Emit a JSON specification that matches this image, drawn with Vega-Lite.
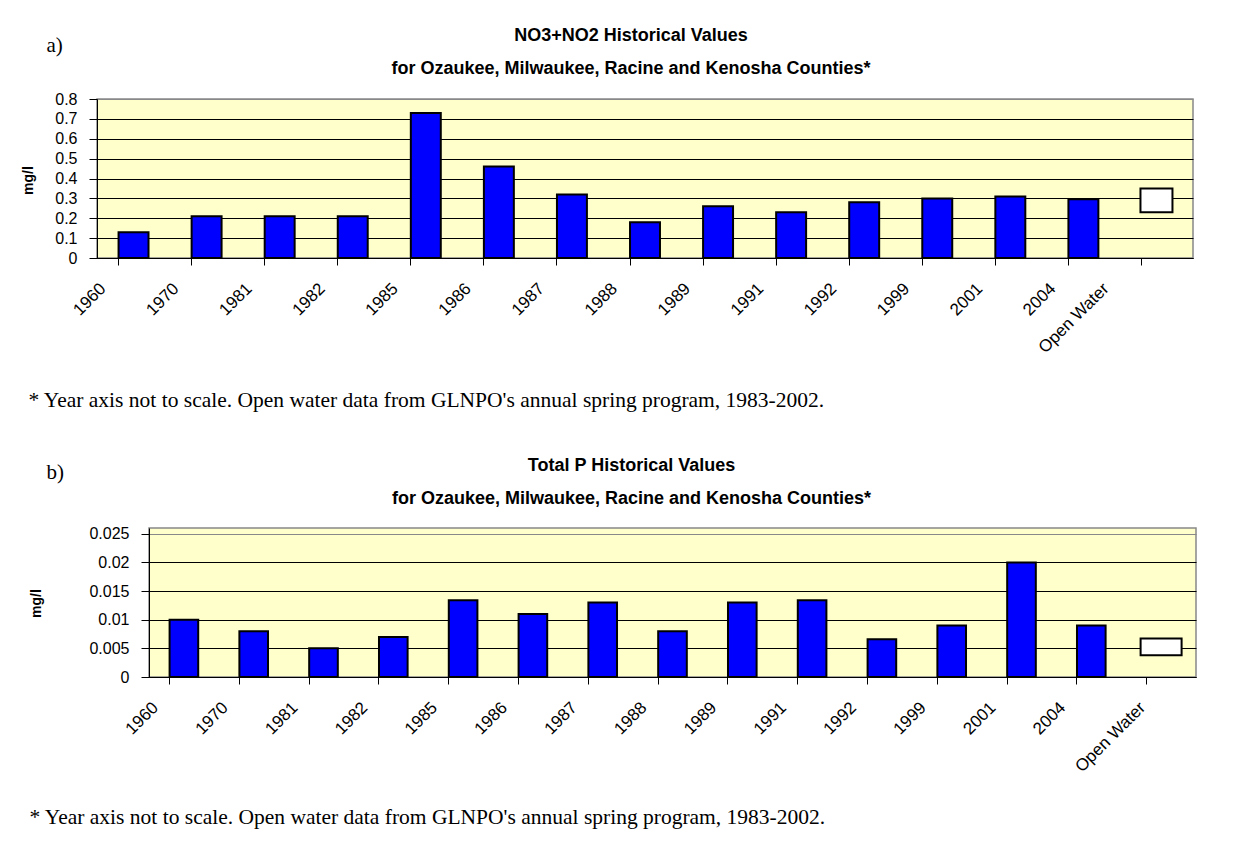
{
  "$schema": "https://vega.github.io/schema/vega-lite/v6.json",
  "background": "white",
  "padding": {"left": 0, "top": 26, "right": 5, "bottom": 5},
  "datasets": {
    "nitrate": [
      {"category": "1960", "value": 0.13},
      {"category": "1970", "value": 0.21},
      {"category": "1981", "value": 0.21},
      {"category": "1982", "value": 0.21},
      {"category": "1985", "value": 0.73},
      {"category": "1986", "value": 0.46},
      {"category": "1987", "value": 0.32},
      {"category": "1988", "value": 0.18},
      {"category": "1989", "value": 0.26},
      {"category": "1991", "value": 0.23},
      {"category": "1992", "value": 0.28},
      {"category": "1999", "value": 0.30},
      {"category": "2001", "value": 0.31},
      {"category": "2004", "value": 0.295},
      {"category": "Open Water", "low": 0.23, "high": 0.35}
    ],
    "phosphorus": [
      {"category": "1960", "value": 0.010},
      {"category": "1970", "value": 0.008},
      {"category": "1981", "value": 0.005},
      {"category": "1982", "value": 0.007},
      {"category": "1985", "value": 0.0134},
      {"category": "1986", "value": 0.011},
      {"category": "1987", "value": 0.013},
      {"category": "1988", "value": 0.008},
      {"category": "1989", "value": 0.013},
      {"category": "1991", "value": 0.0134},
      {"category": "1992", "value": 0.0066},
      {"category": "1999", "value": 0.009},
      {"category": "2001", "value": 0.020},
      {"category": "2004", "value": 0.009},
      {"category": "Open Water", "low": 0.0038, "high": 0.0067}
    ]
  },
  "config": {
    "font": "Liberation Sans",
    "view": {"stroke": "#888888", "strokeWidth": 1.5, "fill": "#FFFFCC"},
    "axis": {
      "domainColor": "black", "tickColor": "black", "labelColor": "black",
      "titleColor": "black", "labelFont": "Liberation Sans", "titleFont": "Liberation Sans"
    },
    "title": {"font": "Liberation Sans", "color": "black"}
  },
  "spacing": 44,
  "vconcat": [
    {
      "spacing": 0,
      "hconcat": [
        {
          "width": 20, "height": 10,
          "data": {"values": []},
          "mark": "point",
          "encoding": {},
          "view": {"stroke": null, "fill": null}
        },
        {
          "width": 1096,
          "height": 159,
          "title": {
            "text": ["NO3+NO2 Historical Values", "for Ozaukee, Milwaukee, Racine and Kenosha Counties*"],
            "fontSize": 18, "fontWeight": "bold", "lineHeight": 33, "anchor": "middle", "offset": 8, "dx": -14, "dy": 52
          },
          "data": {"name": "nitrate"},
          "layer": [
            {
              "transform": [{"filter": "isValid(datum.value)"}],
              "mark": {"type": "bar", "fill": "#0000FF", "stroke": "black", "strokeWidth": 2},
              "encoding": {
                "x": {
                  "field": "category", "type": "nominal",
                  "scale": {"domain": ["1960","1970","1981","1982","1985","1986","1987","1988","1989","1991","1992","1999","2001","2004","Open Water"], "paddingInner": 0.59, "paddingOuter": 0.295},
                  "axis": {
                    "title": "* Year axis not to scale. Open water data from GLNPO's annual spring program, 1983-2002.",
                    "titleFont": "Liberation Serif", "titleFontSize": 21.5, "titleFontWeight": "normal",
                    "titleAlign": "left", "titleX": -69, "titleY": 148, "titleBaseline": "alphabetic",
                    "labelAngle": -45, "labelFontSize": 17, "labelPadding": 15,
                    "labelOffset": {"condition": {"test": "datum.value === 'Open Water'", "value": -56}, "value": -36},
                    "bandPosition": 0, "tickSize": 7, "grid": false
                  }
                },
                "y": {
                  "field": "value", "type": "quantitative",
                  "scale": {"domain": [0, 0.8]},
                  "axis": {
                    "title": "mg/l", "titleFontSize": 14, "titleFontWeight": "bold",
                    "titleX": -69, "titleY": 81, "titleBaseline": "middle",
                    "values": [0, 0.1, 0.2, 0.3, 0.4, 0.5, 0.6, 0.7, 0.8], "format": "~g",
                    "labelFontSize": 16, "labelPadding": 12, "tickSize": 8, "grid": true,
                    "gridColor": {"condition": {"test": "datum.value >= 0.8", "value": "#888888"}, "value": "black"}
                  }
                }
              }
            },
            {
              "transform": [{"filter": "isValid(datum.low)"}],
              "mark": {"type": "bar", "fill": "white", "stroke": "black", "strokeWidth": 2, "width": 32},
              "encoding": {
                "x": {"field": "category", "type": "nominal"},
                "y": {
                  "field": "low", "type": "quantitative",
                  "axis": {
                    "orient": "right", "labels": false, "ticks": false, "domain": false, "grid": false,
                    "title": "a)", "titleFont": "Liberation Serif", "titleFontSize": 21, "titleFontWeight": "normal",
                    "titleAngle": 0, "titleAlign": "left", "titleBaseline": "alphabetic", "titleX": -1147, "titleY": -48
                  }
                },
                "y2": {"field": "high"}
              }
            }
          ],
          "resolve": {"axis": {"y": "independent"}}
        }
      ]
    },
    {
      "spacing": 0,
      "hconcat": [
        {
          "width": 28, "height": 10,
          "data": {"values": []},
          "mark": "point",
          "encoding": {},
          "view": {"stroke": null, "fill": null}
        },
        {
          "width": 1047,
          "height": 149,
          "title": {
            "text": ["Total P Historical Values", "for Ozaukee, Milwaukee, Racine and Kenosha Counties*"],
            "fontSize": 18, "fontWeight": "bold", "lineHeight": 33, "anchor": "middle", "offset": 8, "dx": -41, "dy": 55
          },
          "data": {"name": "phosphorus"},
          "layer": [
            {
              "transform": [{"filter": "isValid(datum.value)"}],
              "mark": {"type": "bar", "fill": "#0000FF", "stroke": "black", "strokeWidth": 2},
              "encoding": {
                "x": {
                  "field": "category", "type": "nominal",
                  "scale": {"domain": ["1960","1970","1981","1982","1985","1986","1987","1988","1989","1991","1992","1999","2001","2004","Open Water"], "paddingInner": 0.59, "paddingOuter": 0.295},
                  "axis": {
                    "title": "* Year axis not to scale. Open water data from GLNPO's annual spring program, 1983-2002.",
                    "titleFont": "Liberation Serif", "titleFontSize": 21.5, "titleFontWeight": "normal",
                    "titleAlign": "left", "titleX": -120, "titleY": 146, "titleBaseline": "alphabetic",
                    "labelAngle": -45, "labelFontSize": 17, "labelPadding": 15,
                    "labelOffset": {"condition": {"test": "datum.value === 'Open Water'", "value": -24}, "value": -34},
                    "bandPosition": 0, "tickSize": 7, "grid": false
                  }
                },
                "y": {
                  "field": "value", "type": "quantitative",
                  "scale": {"domain": [0, 0.025]},
                  "axis": {
                    "title": "mg/l", "titleFontSize": 14, "titleFontWeight": "bold",
                    "titleX": -113, "titleY": 75, "titleBaseline": "middle",
                    "values": [0, 0.005, 0.01, 0.015, 0.02, 0.025], "format": "~g",
                    "labelFontSize": 16, "labelPadding": 12, "tickSize": 8, "grid": true,
                    "gridColor": {"condition": {"test": "datum.value >= 0.025", "value": "#888888"}, "value": "black"}
                  }
                }
              }
            },
            {
              "transform": [{"filter": "isValid(datum.low)"}],
              "mark": {"type": "bar", "fill": "white", "stroke": "black", "strokeWidth": 2, "width": 41},
              "encoding": {
                "x": {"field": "category", "type": "nominal"},
                "y": {
                  "field": "low", "type": "quantitative",
                  "axis": {
                    "orient": "right", "labels": false, "ticks": false, "domain": false, "grid": false,
                    "title": "b)", "titleFont": "Liberation Serif", "titleFontSize": 21, "titleFontWeight": "normal",
                    "titleAngle": 0, "titleAlign": "left", "titleBaseline": "alphabetic", "titleX": -1150, "titleY": -50
                  }
                },
                "y2": {"field": "high"}
              }
            }
          ],
          "resolve": {"axis": {"y": "independent"}}
        }
      ]
    }
  ]
}
